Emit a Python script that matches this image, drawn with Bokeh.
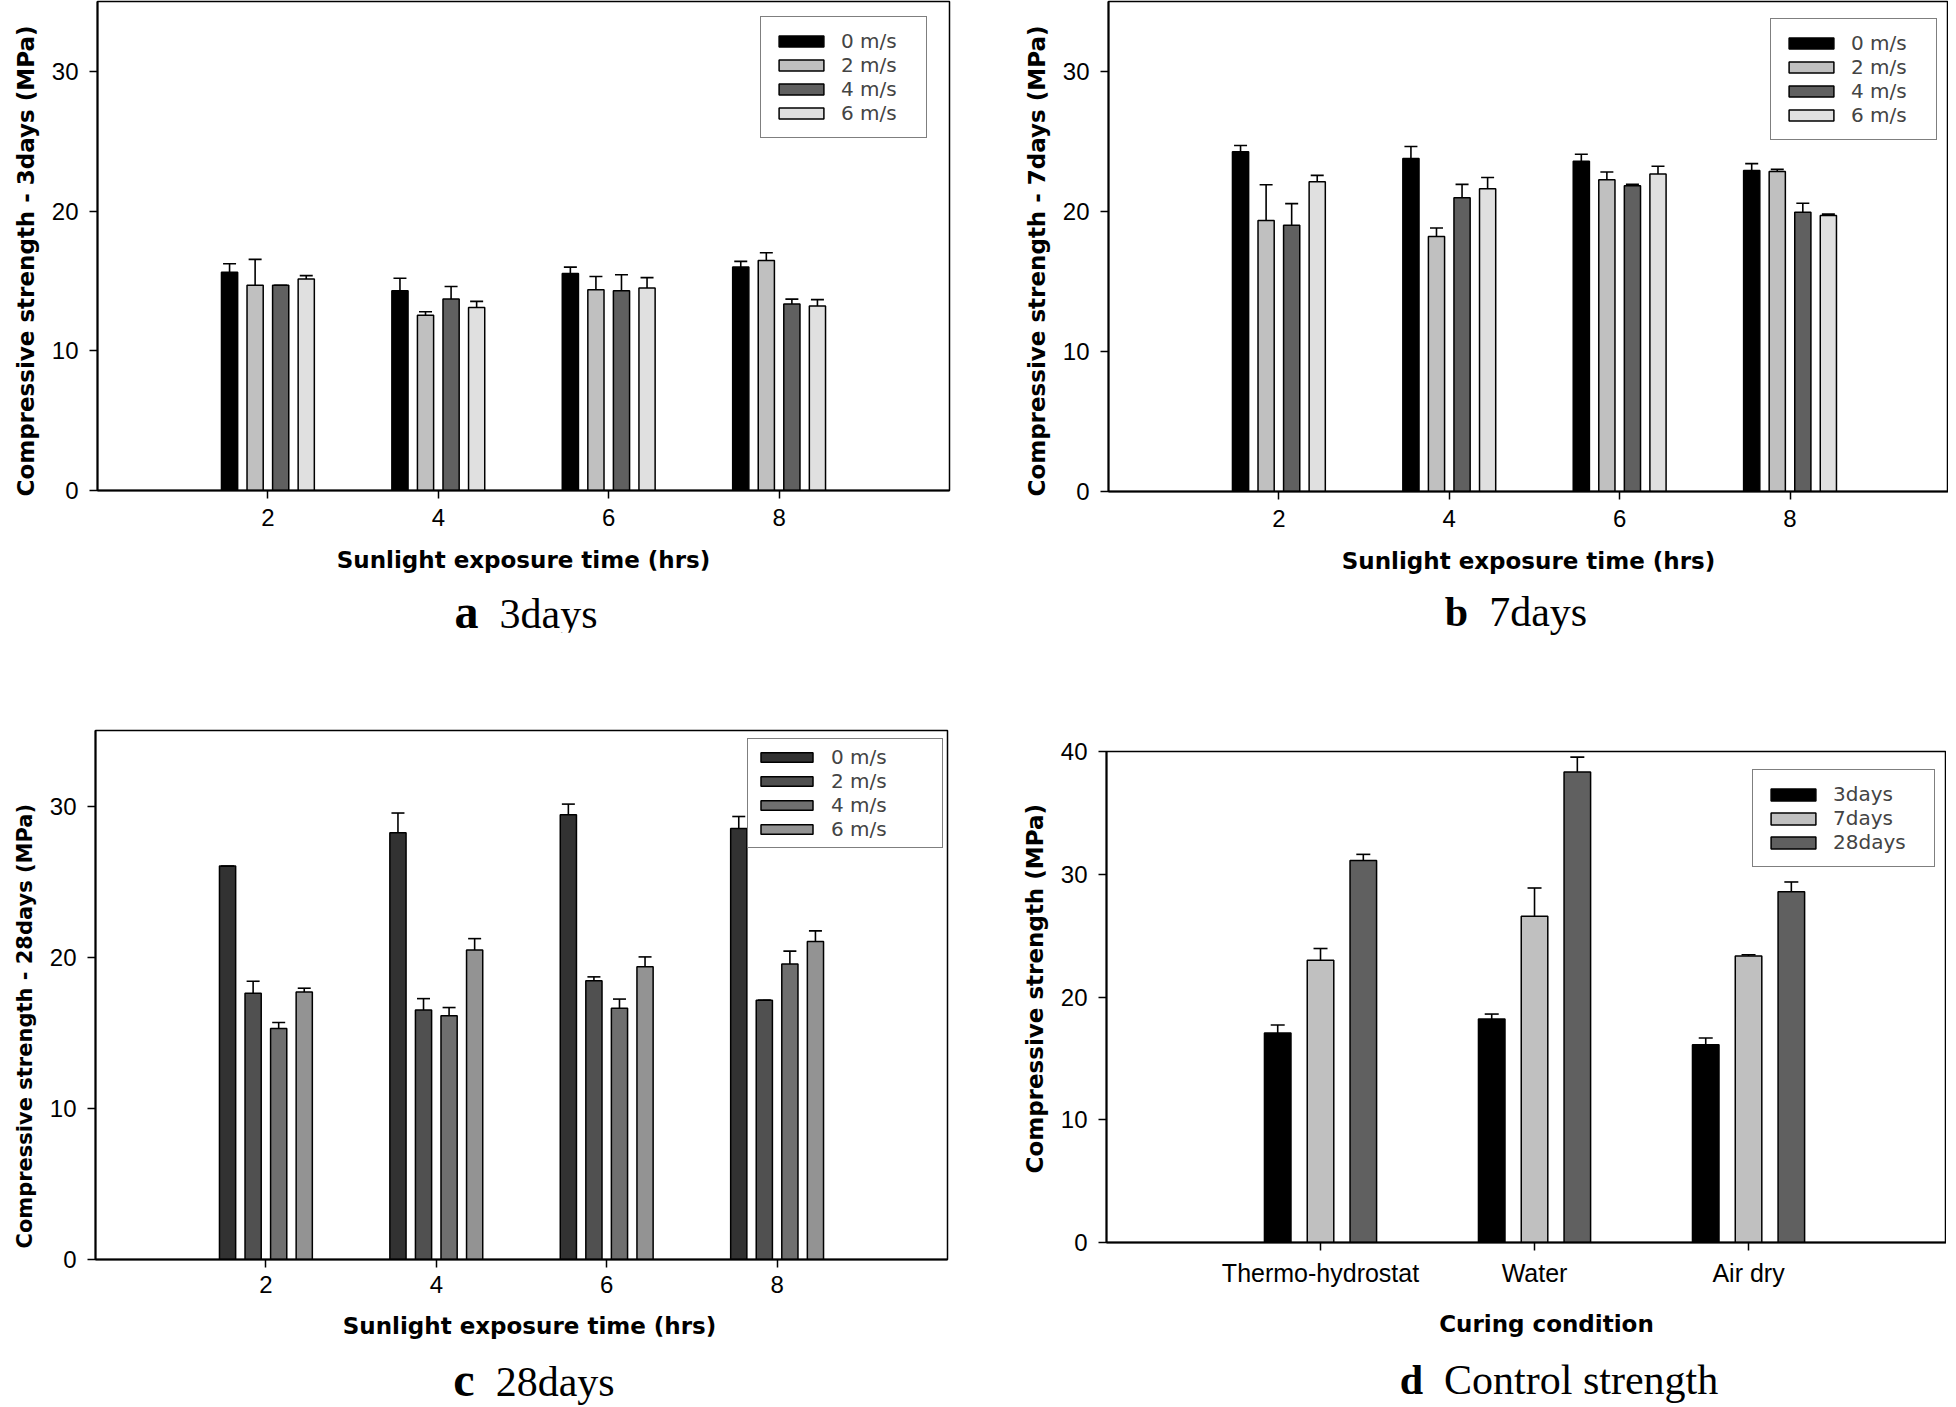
from bokeh.plotting import figure
from bokeh.models import (ColumnDataSource, FixedTicker, Range1d, Legend, LegendItem,
                          Whisker, TeeHead, Div, Spacer, Title)
from bokeh.layouts import column, row
from bokeh.embed import file_html
from bokeh.resources import INLINE
from bokeh.transform import dodge

# ---------------- data ----------------
hours = [2, 4, 6, 8]
speeds = ["0 m/s", "2 m/s", "4 m/s", "6 m/s"]

# 3 days: mean and (upper) error
d3_0 = [15.63, 14.29, 15.54, 16.00]
d3_2 = [14.69, 12.54, 14.37, 16.47]
d3_4 = [14.69, 13.70, 14.29, 13.35]
d3_6 = [15.13, 13.09, 14.49, 13.21]
e3_0 = [0.60, 0.90, 0.45, 0.40]
e3_2 = [1.85, 0.25, 0.95, 0.55]
e3_4 = [0.00, 0.90, 1.15, 0.35]
e3_6 = [0.25, 0.45, 0.75, 0.45]

# 7 days
d7_0 = [24.26, 23.79, 23.59, 22.92]
d7_2 = [19.36, 18.22, 22.27, 22.86]
d7_4 = [19.01, 20.99, 21.84, 19.94]
d7_6 = [22.13, 21.63, 22.68, 19.71]
e7_0 = [0.45, 0.85, 0.50, 0.50]
e7_2 = [2.55, 0.60, 0.55, 0.15]
e7_4 = [1.55, 0.95, 0.10, 0.65]
e7_6 = [0.45, 0.80, 0.55, 0.10]

# 28 days
d28_0 = [26.03, 28.24, 29.43, 28.51]
d28_2 = [17.61, 16.51, 18.45, 17.16]
d28_4 = [15.28, 16.12, 16.63, 19.55]
d28_6 = [17.70, 20.48, 19.37, 21.04]
e28_0 = [0.00, 1.30, 0.70, 0.80]
e28_2 = [0.80, 0.75, 0.25, 0.00]
e28_4 = [0.40, 0.55, 0.60, 0.85]
e28_6 = [0.25, 0.75, 0.65, 0.70]

# control strength
conditions = ["Thermo-hydrostat", "Water", "Air dry"]
ages = ["3days", "7days", "28days"]
c_3 = [17.07, 18.21, 16.11]
c_7 = [23.00, 26.58, 23.34]
c_28 = [31.12, 38.34, 28.57]
ce_3 = [0.65, 0.40, 0.55]
ce_7 = [0.95, 2.30, 0.10]
ce_28 = [0.50, 1.20, 0.80]

# ---------------- styles ----------------
TICK_FONT = "Liberation Sans"
LAB_FONT = "DejaVu Sans"
LEG_FONT = "DejaVu Sans"
CAP_FONT = "Liberation Serif"
NB = "\u00a0"


def base_fig(frame_w, frame_h, mb_left, mb_right, mb_top, mb_bottom, xr, yr, yticks, xticks,
             x_std, x_lab_std):
    p = figure(frame_width=frame_w, frame_height=frame_h,
               min_border_left=mb_left, min_border_right=mb_right,
               min_border_top=mb_top, min_border_bottom=mb_bottom,
               x_range=Range1d(*xr), y_range=Range1d(*yr),
               output_backend="svg", toolbar_location=None)
    p.xgrid.visible = False
    p.ygrid.visible = False
    p.outline_line_color = "black"
    p.outline_line_width = 1.5
    p.background_fill_color = "white"
    p.border_fill_color = "white"
    for ax in (p.xaxis[0], p.yaxis[0]):
        ax.axis_line_width = 2
        ax.axis_line_color = "black"
        ax.major_tick_out = 8
        ax.major_tick_in = 0
        ax.major_tick_line_width = 1.5
        ax.minor_tick_line_color = None
        ax.major_label_text_font = TICK_FONT
        ax.major_label_text_font_size = "24px"
        ax.major_label_text_color = "black"
        ax.axis_label_text_font = LAB_FONT
        ax.axis_label_text_font_style = "bold"
        ax.axis_label_text_font_size = "23px"
        ax.axis_label_text_color = "black"
    p.yaxis.ticker = FixedTicker(ticks=yticks)
    p.xaxis.ticker = FixedTicker(ticks=xticks)
    p.yaxis.major_label_standoff = 11
    p.xaxis.major_label_standoff = x_std
    p.xaxis.axis_label_standoff = x_lab_std
    return p


def y_title(p, text, size, offset):
    # vertical axis title outside the y axis; starts `offset` px above the frame bottom
    p.add_layout(Title(text=text, align="left", offset=offset, standoff=20,
                       text_font=LAB_FONT, text_font_style="bold", text_font_size=size,
                       text_color="black"), "left")


def add_bars(p, xs, series, errors, names, colors, offsets, width, cap, leg_loc,
             glyph_w, glyph_h, padding, label_w):
    items = []
    for vals, errs, name, col, off in zip(series, errors, names, colors, offsets):
        src = ColumnDataSource(dict(x=xs, top=vals,
                                    upper=[v + e for v, e in zip(vals, errs)]))
        r = p.vbar(x=dodge("x", off, range=p.x_range), top="top", width=width, bottom=0,
                   source=src, fill_color=col, line_color="black", line_width=1.5)
        w = Whisker(source=src, base=dodge("x", off, range=p.x_range), lower="top", upper="upper",
                    line_color="black", line_width=1.6, lower_head=None,
                    upper_head=TeeHead(size=cap, line_color="black", line_width=1.6),
                    level="overlay")
        p.add_layout(w)
        items.append(LegendItem(label=name, renderers=[r]))
    leg = Legend(items=items, location=leg_loc, orientation="vertical",
                 glyph_width=glyph_w, glyph_height=glyph_h, label_height=glyph_h,
                 label_width=label_w,
                 label_text_font=LEG_FONT, label_text_font_size="20px",
                 label_standoff=12, spacing=0, padding=padding, margin=0,
                 border_line_color="black", border_line_width=1.5,
                 background_fill_color="white", background_fill_alpha=1.0)
    p.add_layout(leg)


def caption(letter, rest, width, letter_size):
    html = ('<span style="font-weight:bold;font-size:%s">%s</span>&nbsp; %s'
            % (letter_size, letter, rest))
    return Div(text=html, width=width, height=40, margin=0,
               styles={"font-family": CAP_FONT, "font-size": "42px", "text-align": "center",
                       "line-height": "40px", "color": "black", "white-space": "nowrap",
                       "overflow": "visible"})


gray4 = ["#000000", "#c0c0c0", "#606060", "#e0e0e0"]
gray28 = ["#323232", "#505050", "#6f6f6f", "#939393"]
offs4 = [-0.45, -0.15, 0.15, 0.45]

# ---- panel a ----
pa = base_fig(852, 489, 88, 4, 1, 102, (0, 10), (0, 35), [0, 10, 20, 30], hours, 10, 18)
pa.xaxis.axis_label = "Sunlight exposure time (hrs)"
y_title(pa, "Compressive strength - 3days (MPa)", "23px", -6)
add_bars(pa, hours, [d3_0, d3_2, d3_4, d3_6], [e3_0, e3_2, e3_4, e3_6], speeds, gray4,
         offs4, 0.19, 13, (663, 352), 56, 14, 12, 73)

# ---- panel b ----
pb = base_fig(840, 490, 155, 0, 1, 101, (0, 9.86), (0, 35), [0, 10, 20, 30], hours, 10, 18)
pb.xaxis.axis_label = "Sunlight exposure time (hrs)"
y_title(pb, "Compressive strength - 7days (MPa)", "23px", -5)
add_bars(pb, hours, [d7_0, d7_2, d7_4, d7_6], [e7_0, e7_2, e7_4, e7_6], speeds, gray4,
         offs4, 0.19, 13, (662, 351), 56, 14, 12, 73)

# ---- panel c ----
pc = base_fig(852, 529, 88, 4, 98, 101, (0, 10), (0, 35), [0, 10, 20, 30], hours, 8, 17)
pc.xaxis.axis_label = NB * 2 + "Sunlight exposure time (hrs)"
y_title(pc, "Compressive strength - 28days (MPa)", "21px", 11)
add_bars(pc, hours, [d28_0, d28_2, d28_4, d28_6], [e28_0, e28_2, e28_4, e28_6], speeds, gray28,
         offs4, 0.19, 13, (652, 411), 65, 12, 6, 105)

# ---- panel d ----
cond_x = [1, 2, 3]
pd_ = base_fig(840, 491, 155, 0, 98, 118, (0, 3.925), (0, 40), [0, 10, 20, 30, 40], cond_x, 8, 21)
pd_.xaxis.major_label_overrides = {x: name for x, name in zip(cond_x, conditions)}
pd_.xaxis.major_label_text_font_size = "25px"
pd_.xaxis.axis_label = NB * 5 + "Curing condition"
y_title(pd_, "Compressive strength (MPa)", "23px", 69)
add_bars(pd_, cond_x, [c_3, c_7, c_28], [ce_3, ce_7, ce_28], ages,
         ["#000000", "#c0c0c0", "#606060"], [-0.2, 0.0, 0.2], 0.124, 14,
         (646, 375), 56, 15, 12, 89)

cap_row1 = row(Spacer(width=326, height=40), caption("a", "3days", 400, "48px"),
               Spacer(width=590, height=40), caption("b", "7days", 400, "42px"), spacing=0)
cap_row2 = row(Spacer(width=334, height=40), caption("c", "28days", 400, "48px"),
               Spacer(width=625, height=40), caption("d", "Control strength", 400, "42px"),
               spacing=0)

layout = column(row(pa, pb, spacing=0), cap_row1,
                row(pc, column(Spacer(width=995, height=21), pd_, spacing=0), spacing=0),
                cap_row2, spacing=0)

open("out.html", "w").write(file_html(layout, INLINE))
